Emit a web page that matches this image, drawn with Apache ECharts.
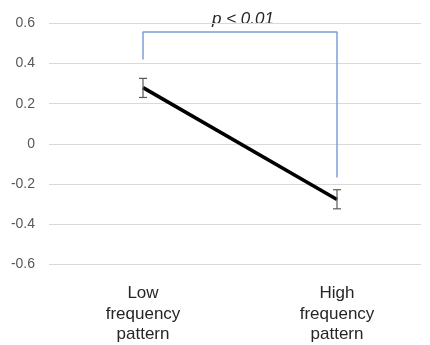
<!DOCTYPE html>
<html><head><meta charset="utf-8">
<script src="https://cdn.jsdelivr.net/npm/echarts@6/dist/echarts.min.js"></script>
<style>html,body{margin:0;padding:0;background:#fff}#c{width:430px;height:345px}</style>
</head><body><div id="c"></div>
<script>
var categories = ['Low\nfrequency\npattern', 'High\nfrequency\npattern'];
var means = [0.28, -0.277];
var errLow = [0.231, -0.323];
var errHigh = [0.326, -0.228];
var bracketY = [0.42, 0.557, 0.557, -0.167];
var bracketX = [0, 0, 1, 1];
var pText = 'p < 0.01';
var yTicks = [-0.6, -0.4, -0.2, 0, 0.2, 0.4, 0.6];

var chart = echarts.init(document.getElementById('c'), null, {renderer: 'canvas'});
var lineData = means.map(function (v, i) { return [i, v]; });
var errData = means.map(function (v, i) { return [i, errLow[i], errHigh[i]]; });
var bracketData = bracketY.map(function (v, i) { return [bracketX[i], v]; });

chart.setOption({
  animation: false,
  grid: {left: 49, right: 9, top: 23.3, bottom: 77.7},
  xAxis: {
    type: 'value', min: -0.4846, max: 1.433,
    axisLine: {show: false}, axisTick: {show: false}, splitLine: {show: false},
    axisLabel: {
      customValues: [0, 1],
      formatter: function (v) { return categories[Math.round(v)]; },
      fontFamily: 'Liberation Sans, Arial, sans-serif', fontSize: 17, lineHeight: 20.5,
      color: '#262626', margin: 19, align: 'center'
    }
  },
  yAxis: {
    type: 'value', min: -0.6, max: 0.6, interval: 0.2,
    axisLine: {show: false}, axisTick: {show: false},
    splitLine: {lineStyle: {color: '#d9d9d9', width: 1}},
    axisLabel: {
      formatter: function (v) { var r = Math.round(v * 10) / 10; return r === 0 ? '0' : r.toFixed(1); },
      fontFamily: 'Liberation Sans, Arial, sans-serif', fontSize: 14, color: '#595959', margin: 14
    }
  },
  graphic: [{
    type: 'text', x: 243, y: 19,
    style: {text: pText, font: 'italic 17px "Liberation Sans", Arial, sans-serif', fill: '#262626',
            textAlign: 'center', textVerticalAlign: 'middle', verticalAlign: 'middle'}
  }],
  series: [
    {
      type: 'line', data: bracketData, symbol: 'none', silent: true,
      lineStyle: {color: '#7f9cd8', width: 1.5}, z: 1
    },
    {
      type: 'line', data: lineData, symbol: 'none',
      lineStyle: {color: '#000000', width: 3.5}, z: 3
    },
    {
      type: 'custom', data: errData, z: 4,
      renderItem: function (params, api) {
        var x = api.value(0);
        var lo = api.coord([x, api.value(1)]);
        var hi = api.coord([x, api.value(2)]);
        var w = 4;
        var st = {stroke: '#595959', lineWidth: 1.2};
        return {type: 'group', children: [
          {type: 'line', shape: {x1: lo[0], y1: lo[1], x2: hi[0], y2: hi[1]}, style: st},
          {type: 'line', shape: {x1: lo[0] - w, y1: lo[1], x2: lo[0] + w, y2: lo[1]}, style: st},
          {type: 'line', shape: {x1: hi[0] - w, y1: hi[1], x2: hi[0] + w, y2: hi[1]}, style: st}
        ]};
      }
    }
  ]
});
</script></body></html>
